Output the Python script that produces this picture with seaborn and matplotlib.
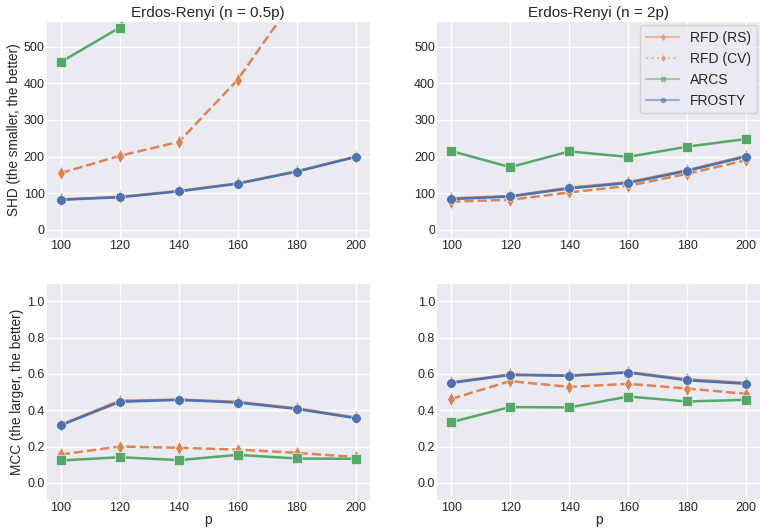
import numpy as np
import pandas as pd
import matplotlib
matplotlib.use("Agg")
import matplotlib.pyplot as plt
from matplotlib.lines import Line2D
import seaborn as sns

p_values = [100, 120, 140, 160, 180, 200]
methods = ["RFD (RS)", "RFD (CV)", "ARCS", "FROSTY"]

# SHD, n = 0.5p
shd_half_rs = [83, 90, 106, 127, 160, 200]
shd_half_cv = [155, 202, 240, 410, 640, 900]
shd_half_arcs = [458, 552, 950, 1300, 1600, 2000]
shd_half_frosty = [82, 89, 105, 126, 159, 199]

# SHD, n = 2p
shd_two_rs = [86, 92, 115, 130, 163, 202]
shd_two_cv = [77, 82, 102, 120, 153, 190]
shd_two_arcs = [215, 171, 214, 199, 227, 248]
shd_two_frosty = [84, 91, 113, 128, 161, 200]

# MCC, n = 0.5p
mcc_half_rs = [0.320, 0.452, 0.458, 0.446, 0.410, 0.360]
mcc_half_cv = [0.156, 0.200, 0.193, 0.183, 0.165, 0.142]
mcc_half_arcs = [0.123, 0.141, 0.125, 0.154, 0.134, 0.132]
mcc_half_frosty = [0.317, 0.446, 0.457, 0.442, 0.407, 0.356]

# MCC, n = 2p
mcc_two_rs = [0.553, 0.597, 0.591, 0.610, 0.570, 0.550]
mcc_two_cv = [0.462, 0.560, 0.528, 0.545, 0.519, 0.490]
mcc_two_arcs = [0.334, 0.417, 0.415, 0.475, 0.448, 0.457]
mcc_two_frosty = [0.550, 0.594, 0.589, 0.607, 0.565, 0.545]

sns.set_theme(style="darkgrid")
plt.rcParams["font.family"] = ["Liberation Sans", "DejaVu Sans"]
pal = sns.color_palette("deep")
colors = {"RFD (RS)": pal[1], "RFD (CV)": pal[1], "ARCS": pal[2], "FROSTY": pal[0]}
markers = {"RFD (RS)": "d", "RFD (CV)": "d", "ARCS": "s", "FROSTY": "o"}
styles = {"RFD (RS)": "-", "RFD (CV)": "--", "ARCS": "-", "FROSTY": "-"}
msizes = {"RFD (RS)": 7.5, "RFD (CV)": 7.5, "ARCS": 6.5, "FROSTY": 7.0}

panels = [
    (0, 0, [shd_half_rs, shd_half_cv, shd_half_arcs, shd_half_frosty]),
    (0, 1, [shd_two_rs, shd_two_cv, shd_two_arcs, shd_two_frosty]),
    (1, 0, [mcc_half_rs, mcc_half_cv, mcc_half_arcs, mcc_half_frosty]),
    (1, 1, [mcc_two_rs, mcc_two_cv, mcc_two_arcs, mcc_two_frosty]),
]

fig, axes = plt.subplots(2, 2, figsize=(7.61, 5.31), dpi=100)
fig.patch.set_facecolor("white")

for r, c, series in panels:
    ax = axes[r, c]
    for name, vals in zip(methods, series):
        df = pd.DataFrame({"p": p_values, "v": vals})
        sns.lineplot(data=df, x="p", y="v", ax=ax, color=colors[name],
                     marker=markers[name], linestyle=styles[name],
                     markersize=msizes[name], linewidth=1.8,
                     markeredgecolor="white", markeredgewidth=0.4,
                     legend=False)
    ax.set_xticks(p_values)
    ax.set_xlim(95, 205)
    ax.tick_params(labelsize=9, pad=1, length=0)
    if r == 0:
        ax.set_ylim(-25, 570)
        ax.set_yticks([0, 100, 200, 300, 400, 500])
        ax.set_xlabel("")
    else:
        ax.set_ylim(-0.1, 1.1)
        ax.set_yticks([0.0, 0.2, 0.4, 0.6, 0.8, 1.0])
        ax.set_xlabel("p", fontsize=10, labelpad=-1)
    ax.set_ylabel("")

axes[0, 0].set_title("Erdos-Renyi (n = 0.5p)", fontsize=11, pad=3)
axes[0, 1].set_title("Erdos-Renyi (n = 2p)", fontsize=11, pad=3)
axes[0, 0].set_ylabel("SHD (the smaller, the better)", fontsize=9.8, labelpad=2)
axes[1, 0].set_ylabel("MCC (the larger, the better)", fontsize=9.8, labelpad=2)

handles = [
    Line2D([0], [0], color=colors[m], linestyle=(":" if m == "RFD (CV)" else "-"),
           marker=markers[m], markersize=3, linewidth=1.5, alpha=0.5)
    for m in methods
]
axes[0, 1].legend(handles, methods, loc="upper right", fontsize=10,
                  handlelength=2.4, borderaxespad=0.3)

fig.subplots_adjust(left=46/761, right=1.0, top=1-21/531, bottom=1-501/531,
                    wspace=0.203, hspace=0.202)
fig.savefig("out.png", dpi=100)
